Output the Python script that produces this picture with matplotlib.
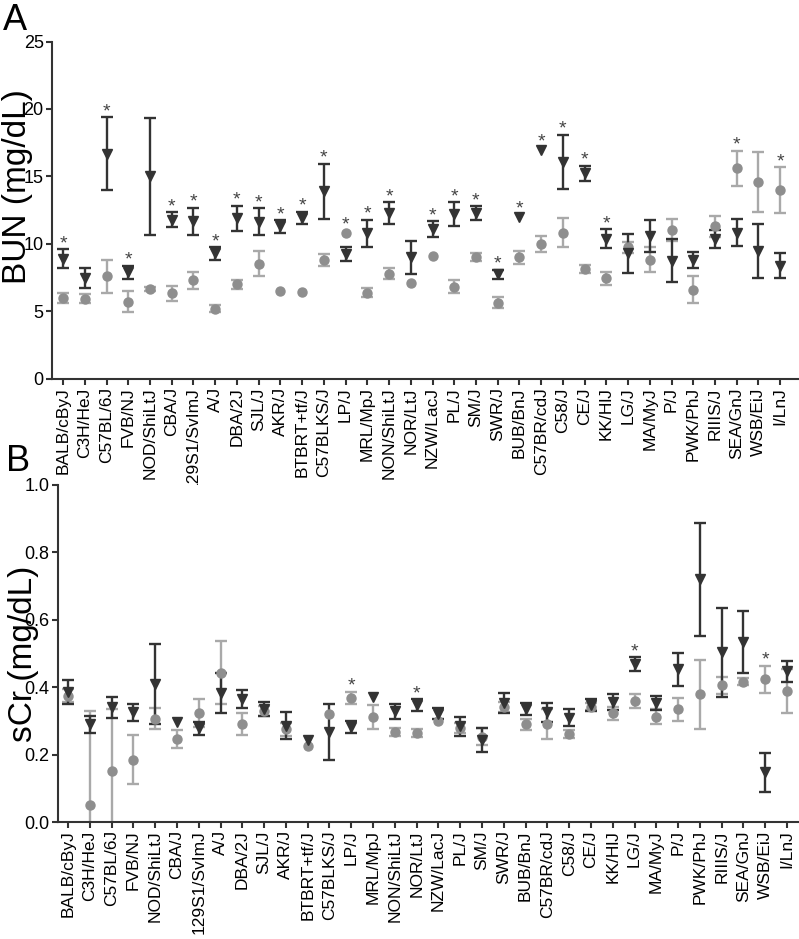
import matplotlib
matplotlib.use("Agg")
import matplotlib.pyplot as plt
import numpy as np

plt.rcParams['font.family'] = ['Liberation Sans', 'DejaVu Sans']

STRAINS = ["BALB/cByJ", "C3H/HeJ", "C57BL/6J", "FVB/NJ", "NOD/ShiLtJ", "CBA/J",
           "129S1/SvImJ", "A/J", "DBA/2J", "SJL/J", "AKR/J", "BTBRT+tf/J",
           "C57BLKS/J", "LP/J", "MRL/MpJ", "NON/ShiLtJ", "NOR/LtJ", "NZW/LacJ",
           "PL/J", "SM/J", "SWR/J", "BUB/BnJ", "C57BR/cdJ", "C58/J", "CE/J",
           "KK/HlJ", "LG/J", "MA/MyJ", "P/J", "PWK/PhJ", "RIIIS/J", "SEA/GnJ",
           "WSB/EiJ", "I/LnJ"]

# panel A, BUN (mg/dL)
bun_tri = [8.9, 7.5, 16.7, 7.9, 15.0, 11.8, 11.7, 9.3, 11.9, 11.65, 11.3, 11.95,
           13.9, 9.25, 10.8, 12.3, 9.0, 11.1, 12.2, 12.3, 7.75, 12.0, 16.96, 16.1,
           15.25, 10.4, 9.3, 10.6, 8.75, 8.8, 10.35, 10.85, 9.5, 8.4]
bun_tri_err = [0.7, 0.75, 2.7, 0.5, 4.3, 0.55, 1.0, 0.45, 0.95, 1.0, 0.45, 0.45,
               2.05, 0.5, 1.0, 0.8, 1.2, 0.6, 0.9, 0.5, 0.35, 0.0, 0.0, 2.0,
               0.55, 0.7, 1.45, 1.2, 1.6, 0.6, 0.65, 1.0, 2.0, 0.95]
bun_dot = [6.0, 5.95, 7.6, 5.73, 6.7, 6.35, 7.3, 5.2, 7.0, 8.55, 6.5, 6.42,
           8.8, 10.79, 6.4, 7.8, 7.09, 9.13, 6.85, 9.06, 5.65, 9.0, 10.0, 10.85,
           8.12, 7.45, 9.75, 8.85, 11.05, 6.6, 11.3, 15.6, 14.6, 14.0]
bun_dot_err = [0.35, 0.35, 1.2, 0.8, 0.15, 0.55, 0.6, 0.25, 0.3, 0.9, 0.0, 0.0,
               0.45, 0.0, 0.35, 0.4, 0.0, 0.0, 0.5, 0.3, 0.4, 0.45, 0.6, 1.05,
               0.3, 0.5, 0.4, 0.9, 0.8, 1.0, 0.75, 1.3, 2.2, 1.7]
bun_stars = [0, 2, 3, 5, 6, 7, 8, 9, 10, 11, 12, 13, 14, 15, 17, 18, 19, 20,
             21, 22, 23, 24, 25, 31, 33]

# panel B, sCr (mg/dL)
scr_tri = [0.385, 0.29, 0.34, 0.325, 0.41, 0.296, 0.278, 0.383, 0.365, 0.335,
           0.285, 0.243, 0.267, 0.283, 0.372, 0.328, 0.347, 0.321, 0.284, 0.243,
           0.353, 0.335, 0.326, 0.31, 0.346, 0.356, 0.469, 0.353, 0.453, 0.72,
           0.503, 0.534, 0.148, 0.447]
scr_tri_err = [0.035, 0.025, 0.032, 0.025, 0.118, 0.0, 0.02, 0.06, 0.028, 0.02,
               0.04, 0.0, 0.083, 0.018, 0.0, 0.022, 0.018, 0.016, 0.028, 0.036,
               0.031, 0.018, 0.028, 0.025, 0.018, 0.024, 0.02, 0.021, 0.048, 0.168,
               0.131, 0.093, 0.058, 0.032]
scr_dot = [0.375, 0.05, 0.15, 0.185, 0.306, 0.246, 0.323, 0.443, 0.291, 0.33,
           0.275, 0.225, 0.32, 0.369, 0.311, 0.268, 0.263, 0.3, 0.278, 0.253,
           0.342, 0.29, 0.29, 0.261, 0.342, 0.322, 0.358, 0.313, 0.334, 0.379,
           0.406, 0.416, 0.423, 0.389]
scr_dot_err = [0.02, 0.28, 0.185, 0.072, 0.031, 0.027, 0.042, 0.093, 0.032, 0.015,
               0.02, 0.0, 0.0, 0.018, 0.036, 0.012, 0.012, 0.0, 0.015, 0.025,
               0.015, 0.017, 0.045, 0.012, 0.01, 0.02, 0.021, 0.022, 0.034, 0.103,
               0.025, 0.01, 0.041, 0.065]
scr_stars = [13, 16, 26, 32]

TRI_COLOR = "#333333"
DOT_COLOR = "#8e8e8e"
DOT_BAR = "#a9a9a9"
AXIS_COLOR = "#333333"


def draw_series(ax, x, mean, err, marker, color, barcolor):
    mean = np.array(mean)
    err = np.array(err)
    has = err > 0
    ax.errorbar(x[has], mean[has], yerr=err[has], fmt="none", ecolor=barcolor,
                elinewidth=1.7, capsize=4.5, capthick=1.7, zorder=2)
    ax.plot(x, mean, marker, color=color, ms=6.5, mec=color, zorder=3, clip_on=False)


def draw_panel(ax, tri, tri_err, dot, dot_err, stars):
    x = np.arange(len(STRAINS))
    draw_series(ax, x, dot, dot_err, "o", DOT_COLOR, DOT_BAR)
    draw_series(ax, x, tri, tri_err, "v", TRI_COLOR, TRI_COLOR)
    for i in stars:
        t_top = tri[i] + tri_err[i]
        d_top = dot[i] + dot_err[i]
        top = max(t_top, d_top)
        # no error bar on the highest point: lift the star clear of the marker
        bare = (tri_err[i] == 0) if t_top >= d_top else (dot_err[i] == 0)
        ax.annotate("*", (i, top), xytext=(0, 4 if bare else 1), textcoords="offset pixels",
                    ha="center", va="baseline", fontsize=14, color="#444444")

    ax.set_xticks(x)
    ax.set_xticklabels(STRAINS, rotation=90, fontsize=12.5)
    for side in ("top", "right"):
        ax.spines[side].set_visible(False)
    for side in ("left", "bottom"):
        ax.spines[side].set_linewidth(1.5)
        ax.spines[side].set_color(AXIS_COLOR)
    ax.tick_params(axis="both", direction="out", length=4, width=1.5, color=AXIS_COLOR, pad=2)
    ax.tick_params(axis="y", labelsize=13)


fig = plt.figure(figsize=(7.99, 9.39), dpi=100)

axA = fig.add_axes([0.0651, 0.5964, 0.935, 0.3594])
draw_panel(axA, bun_tri, bun_tri_err, bun_dot, bun_dot_err, bun_stars)
axA.set_xlim(-0.51, 33.87)
axA.set_ylim(0, 25)
axA.set_yticks([0, 5, 10, 15, 20, 25])
axA.set_ylabel("BUN (mg/dL)", fontsize=24)
axA.yaxis.set_label_coords(-0.026, 0.57)

axB = fig.add_axes([0.0726, 0.1246, 0.9274, 0.3589])
draw_panel(axB, scr_tri, scr_tri_err, scr_dot, scr_dot_err, scr_stars)
axB.set_xlim(-0.46, 33.55)
axB.set_ylim(0, 1.0)
axB.set_yticks([0.0, 0.2, 0.4, 0.6, 0.8, 1.0])
axB.set_yticklabels(["0.0", "0.2", "0.4", "0.6", "0.8", "1.0"])
axB.set_ylabel("sCr (mg/dL)", fontsize=24)
axB.yaxis.set_label_coords(-0.026, 0.5)

fig.text(0.004, 0.997, "A", fontsize=26, va="top", ha="left")
fig.text(0.008, 0.527, "B", fontsize=26, va="top", ha="left")

fig.savefig("out.png", dpi=100)
